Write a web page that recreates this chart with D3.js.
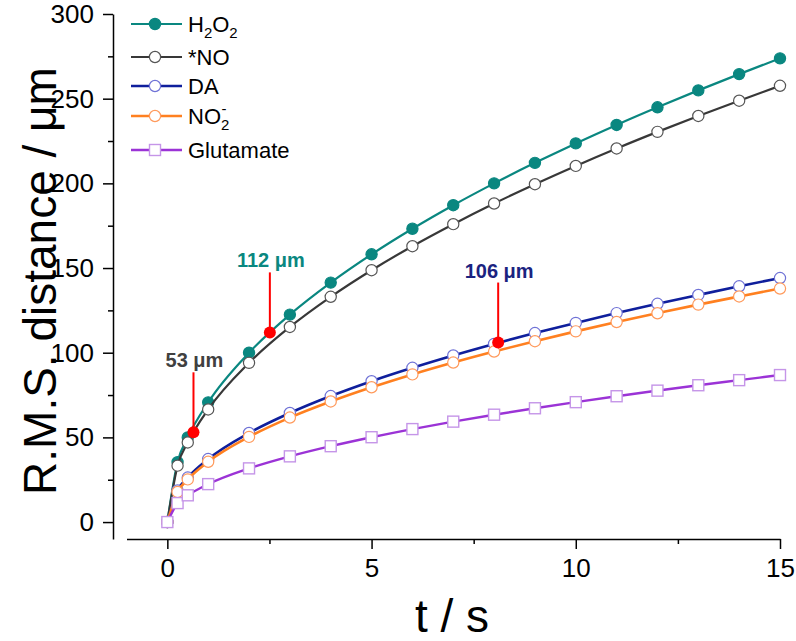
<!DOCTYPE html>
<html>
<head>
<meta charset="utf-8">
<script src="https://cdn.jsdelivr.net/npm/d3@7/dist/d3.min.js"></script>
<style>
  html, body { margin: 0; padding: 0; background: #fff; }
  svg { display: block; font-family: "Liberation Sans", Arial, sans-serif; }
</style>
</head>
<body>
<svg id="chart" width="796" height="641"></svg>
<script>
// ---- data ----
const times = [0, 0.25, 0.5, 1, 2, 3, 4, 5, 6, 7, 8, 9, 10, 11, 12, 13, 14, 15];
const seriesNames = ["H2O2", "*NO", "DA", "NO2-", "Glutamate"];
const h2o2 = [0, 35.4, 50.0, 70.7, 100.0, 122.5, 141.4, 158.1, 173.2, 187.1, 200.0, 212.1, 223.6, 234.5, 244.9, 254.9, 264.5, 273.8];
const no = [0, 33.3, 47.0, 66.5, 94.0, 115.2, 133.0, 148.7, 162.9, 175.9, 188.1, 199.5, 210.3, 220.6, 230.4, 239.8, 248.8, 257.6];
const da = [0, 18.6, 26.3, 37.2, 52.6, 64.4, 74.4, 83.2, 91.1, 98.4, 105.2, 111.6, 117.6, 123.4, 128.9, 134.1, 139.2, 144.1];
const no2 = [0, 17.8, 25.2, 35.6, 50.3, 61.7, 71.2, 79.6, 87.2, 94.2, 100.7, 106.8, 112.6, 118.1, 123.3, 128.4, 133.2, 137.9];
const glutamate = [0, 11.2, 15.8, 22.4, 31.7, 38.8, 44.8, 50.1, 54.9, 59.3, 63.4, 67.2, 70.8, 74.3, 77.6, 80.8, 83.8, 86.8];
const xTicks = [0, 5, 10, 15];
const xMinorTicks = [2.5, 7.5, 12.5];
const yTicks = [0, 50, 100, 150, 200, 250, 300];
const yMinorTicks = [25, 75, 125, 175, 225, 275];
// annotations: time, value, text
const annoT = [0.64, 2.51, 8.1];
const annoV = [53, 112, 106];
const annoText = ["53 \u03BCm", "112 \u03BCm", "106 \u03BCm"];

// ---- styles ----
const styles = [
  { line: "#0a8780", width: 2.2, marker: "circle", fill: "#0a8780", stroke: "#0a8780" },
  { line: "#383838", width: 2.2, marker: "circle", fill: "#ffffff", stroke: "#555555" },
  { line: "#0f1f9c", width: 2.6, marker: "circle", fill: "#ffffff", stroke: "#6f72d6" },
  { line: "#ff8020", width: 2.6, marker: "circle", fill: "#ffffff", stroke: "#ff9a5c" },
  { line: "#9b33d6", width: 2.4, marker: "square", fill: "#ffffff", stroke: "#c595e8" }
];
const annoColor = ["#404040", "#0a8780", "#1a2380"];

const allSeries = [h2o2, no, da, no2, glutamate];

const svg = d3.select("#chart");
const x = d3.scaleLinear().domain([-1, 15]).range([126.5, 780]);
const y = d3.scaleLinear().domain([-10, 300]).range([539, 14]);

// axes
const axisX = 113;
const gy = svg.append("g").attr("transform", `translate(${axisX},0)`)
  .call(d3.axisLeft(y).tickValues(yTicks).tickSize(10).tickSizeOuter(0).tickPadding(9));
const gyMinor = svg.append("g").attr("transform", `translate(${axisX},0)`)
  .call(d3.axisLeft(y).tickValues(yMinorTicks).tickSize(5).tickSizeOuter(0).tickFormat(""));
gyMinor.select(".domain").remove();
const gx = svg.append("g").attr("transform", `translate(0,539)`)
  .call(d3.axisBottom(x).tickValues(xTicks).tickSize(10).tickSizeOuter(0).tickPadding(10));
const gxMinor = svg.append("g").attr("transform", `translate(0,539)`)
  .call(d3.axisBottom(x).tickValues(xMinorTicks).tickSize(5).tickSizeOuter(0).tickFormat(""));
gxMinor.select(".domain").remove();
svg.selectAll(".domain, .tick line").attr("stroke", "#000").attr("stroke-width", 1.5);
svg.selectAll(".tick text").attr("font-size", 26).attr("fill", "#000")
  .attr("font-family", "'Liberation Sans', Arial, sans-serif");

// axis titles
svg.append("text")
  .attr("transform", `translate(56,281) rotate(-90)`)
  .attr("text-anchor", "middle")
  .attr("font-size", 46).attr("fill", "#000")
  .text("R.M.S. distance / \u03BCm");
svg.append("text")
  .attr("x", 452).attr("y", 632)
  .attr("text-anchor", "middle")
  .attr("font-size", 46).attr("fill", "#000")
  .text("t / s");

// series
const line = d3.line().x(d => x(d[0])).y(d => y(d[1])).curve(d3.curveMonotoneX);
allSeries.forEach((vals, i) => {
  const st = styles[i];
  const pts = times.map((t, k) => [t, vals[k]]);
  svg.append("path").datum(pts)
    .attr("d", line).attr("fill", "none")
    .attr("stroke", st.line).attr("stroke-width", st.width);
  const g = svg.append("g");
  if (st.marker === "circle") {
    g.selectAll("circle").data(pts).join("circle")
      .attr("cx", d => x(d[0])).attr("cy", d => y(d[1])).attr("r", 5.6)
      .attr("fill", st.fill).attr("stroke", st.stroke).attr("stroke-width", 1.2);
  } else {
    g.selectAll("rect").data(pts).join("rect")
      .attr("x", d => x(d[0]) - 5.5).attr("y", d => y(d[1]) - 5.5)
      .attr("width", 11).attr("height", 11)
      .attr("fill", st.fill).attr("stroke", st.stroke).attr("stroke-width", 1.4);
  }
});

// annotations
annoT.forEach((t, i) => {
  const cx = x(t), cy = y(annoV[i]);
  svg.append("line").attr("x1", cx).attr("x2", cx)
    .attr("y1", cy).attr("y2", cy - 60)
    .attr("stroke", "#ff0000").attr("stroke-width", 2);
  svg.append("circle").attr("cx", cx).attr("cy", cy).attr("r", 6)
    .attr("fill", "#ff0000");
  svg.append("text").attr("x", cx + 1).attr("y", cy - 65)
    .attr("text-anchor", "middle").attr("font-size", 20).attr("font-weight", "bold")
    .attr("fill", annoColor[i]).text(annoText[i]);
});

// legend
const legendY = [24, 57, 86, 116, 150];
const lg = svg.append("g");
seriesNames.forEach((name, i) => {
  const st = styles[i];
  const ly = legendY[i];
  lg.append("line").attr("x1", 131).attr("x2", 182).attr("y1", ly).attr("y2", ly)
    .attr("stroke", st.line).attr("stroke-width", st.width);
  if (st.marker === "circle") {
    lg.append("circle").attr("cx", 155).attr("cy", ly).attr("r", 5.6)
      .attr("fill", st.fill).attr("stroke", st.stroke).attr("stroke-width", 1.2);
  } else {
    lg.append("rect").attr("x", 149.5).attr("y", ly - 5.5).attr("width", 11).attr("height", 11)
      .attr("fill", st.fill).attr("stroke", st.stroke).attr("stroke-width", 1.4);
  }
  const tx = 188, ty = ly + 8;
  const fs = 22;
  if (name === "H2O2") {
    const t = lg.append("text").attr("x", tx).attr("y", ty).attr("font-size", fs).attr("fill", "#000");
    t.append("tspan").text("H");
    t.append("tspan").attr("font-size", fs * 0.68).attr("dy", 6).text("2");
    t.append("tspan").attr("dy", -6).text("O");
    t.append("tspan").attr("font-size", fs * 0.68).attr("dy", 6).text("2");
  } else if (name === "NO2-") {
    const t = lg.append("text").attr("x", tx).attr("y", ty).attr("font-size", fs).attr("fill", "#000").text("NO");
    const w = t.node().getComputedTextLength();
    lg.append("text").attr("x", tx + w + 0.5).attr("y", ty - 10).attr("font-size", fs * 0.68).attr("fill", "#000").text("-");
    lg.append("text").attr("x", tx + w).attr("y", ty + 6).attr("font-size", fs * 0.68).attr("fill", "#000").text("2");
  } else {
    lg.append("text").attr("x", tx).attr("y", ty).attr("font-size", fs).attr("fill", "#000").text(name);
  }
});
</script>
</body>
</html>
